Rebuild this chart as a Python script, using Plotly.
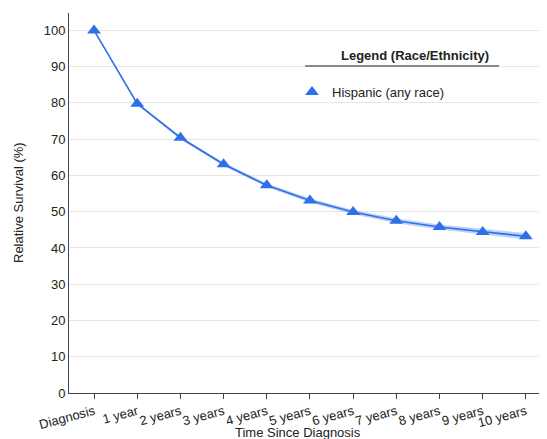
import plotly.graph_objects as go

categories = ["Diagnosis", "1 year", "2 years", "3 years", "4 years", "5 years",
              "6 years", "7 years", "8 years", "9 years", "10 years"]
survival = [100, 79.8, 70.4, 63.1, 57.3, 53.1, 49.9, 47.5, 45.8, 44.4, 43.2]
ci_lower = [100, 79.5, 70.0, 62.6, 56.8, 52.5, 49.3, 46.8, 45.1, 43.6, 42.3]
ci_upper = [100, 80.1, 70.8, 63.6, 57.8, 53.7, 50.5, 48.2, 46.5, 45.2, 44.1]
series_name = "Hispanic (any race)"
legend_title = "Legend (Race/Ethnicity)"
x_title = "Time Since Diagnosis"
y_title = "Relative Survival (%)"

BLUE = "#2f6fe8"
FONT = "Liberation Sans, Arial, sans-serif"

fig = go.Figure()
fig.add_trace(go.Scatter(x=categories, y=ci_upper, mode="lines", line=dict(width=0),
                         showlegend=False, hoverinfo="skip"))
fig.add_trace(go.Scatter(x=categories, y=ci_lower, mode="lines", line=dict(width=0),
                         fill="tonexty", fillcolor="rgba(47,111,232,0.3)",
                         showlegend=False, hoverinfo="skip"))
fig.add_trace(go.Scatter(x=categories, y=survival, mode="lines+markers", name=series_name,
                         line=dict(color=BLUE, width=1.6),
                         marker=dict(symbol="triangle-up", size=12, color=BLUE),
                         showlegend=False))
# legend-only entry (marker without line)
fig.add_trace(go.Scatter(x=[None], y=[None], mode="markers", name=series_name,
                         marker=dict(symbol="triangle-up", size=12, color=BLUE)))

OFF = 8  # page body margin
W, H = 547 - OFF, 439 - OFF
# plot area in screenshot pixels: x 69..547, y 12.7..392.7
L, R, T, B = 69 - OFF, 0, 13 - OFF, 439 - 393
pw, ph = W - L - R, H - T - B

def px(x):
    return (x - OFF - L) / pw

def py(y):
    return (T + ph - (y - OFF)) / ph

fig.add_shape(type="rect", xref="paper", yref="paper",
              x0=px(297), x1=px(498), y0=py(112), y1=py(44),
              fillcolor="white", line=dict(width=0), layer="between")
fig.add_shape(type="line", xref="paper", yref="paper",
              x0=px(305), x1=px(499), y0=py(66), y1=py(66),
              line=dict(color="#8a8a8a", width=2))
fig.add_annotation(text="<b>" + legend_title + "</b>", xref="paper", yref="paper",
                   x=px(415), y=py(55), xanchor="center", yanchor="middle",
                   showarrow=False, font=dict(family=FONT, size=13, color="#222"))
fig.add_annotation(text=x_title, xref="paper", yref="paper",
                   x=px(298), y=py(432), xanchor="center", yanchor="middle",
                   showarrow=False, font=dict(family=FONT, size=13, color="#222"))
fig.add_annotation(text=y_title, xref="paper", yref="paper", textangle=-90,
                   x=px(18), y=py(203), xanchor="center", yanchor="middle",
                   showarrow=False, font=dict(family=FONT, size=13, color="#222"))

fig.update_layout(
    width=W, height=H,
    margin=dict(l=L, r=R, t=T, b=B, autoexpand=False),
    paper_bgcolor="white", plot_bgcolor="white",
    font=dict(family=FONT, size=13, color="#222"),
    showlegend=True,
    legend=dict(x=px(292), y=py(77), xanchor="left", yanchor="top",
                bgcolor="rgba(0,0,0,0)", font=dict(size=13, color="#222")),
    xaxis=dict(
        type="category", range=[-0.58, 10.49], automargin=False,
        showline=True, linecolor="#444", linewidth=1,
        ticks="outside", ticklen=5, tickcolor="#444",
        tickangle=-15, showgrid=False,
        tickfont=dict(size=13),
    ),
    yaxis=dict(
        range=[0, 104.8], dtick=10, automargin=False,
        showline=True, linecolor="#444", linewidth=1,
        ticks="", showgrid=True, gridcolor="#e6e6e6", zeroline=False,
        tickfont=dict(size=13),
    ),
)

fig.write_html("out.html")
